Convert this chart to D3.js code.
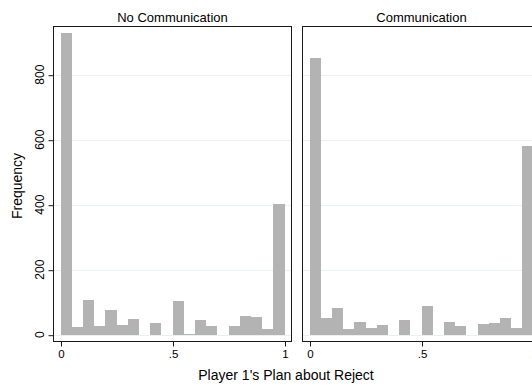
<!DOCTYPE html>
<html>
<head>
<meta charset="utf-8">
<script src="https://cdn.jsdelivr.net/npm/d3@7"></script>
<style>
  html, body { margin: 0; padding: 0; background: #fff; }
  svg { display: block; font-family: "Liberation Sans", Arial, Helvetica, sans-serif; }
</style>
</head>
<body>
<svg id="chart" width="532" height="385"></svg>
<script>
// Histogram bins: left edges of the 20 bins of width 0.05 on [0, 1]
const binStarts = [0, 0.05, 0.1, 0.15, 0.2, 0.25, 0.3, 0.35, 0.4, 0.45,
                   0.5, 0.55, 0.6, 0.65, 0.7, 0.75, 0.8, 0.85, 0.9, 0.95];
const binWidth = 0.05;

// Frequencies per bin for each condition
const noCommunication = [928, 25, 108, 28, 77, 31, 49, 0, 37, 0,
                         105, 3, 46, 28, 0, 28, 58, 55, 18, 402];
const communication   = [851, 52, 83, 18, 40, 22, 31, 0, 46, 0,
                         89, 0, 40, 28, 0, 34, 37, 52, 22, 580];

const panelTitles = ["No Communication", "Communication"];
const yTicks = [0, 200, 400, 600, 800];
const xTicks = [0, 0.5, 1];
const xTickLabels = ["0", ".5", "1"];

const svg = d3.select("#chart");

// Layout
const frameTop = 26.5, frameBottom = 341.5;
const frameLefts = [53.5, 302.5];
const frameWidth = 238;
const pad = 7;

const y = d3.scaleLinear().domain([0, 800]).range([334.7, 74.7]);

const panels = [
  { title: panelTitles[0], counts: noCommunication },
  { title: panelTitles[1], counts: communication }
];

panels.forEach((p, i) => {
  const fl = frameLefts[i];
  const x = d3.scaleLinear().domain([0, 1]).range([fl + pad, fl + frameWidth - pad]);
  const g = svg.append("g");

  // Grid lines
  g.selectAll("line.grid").data(yTicks).enter().append("line")
    .attr("x1", fl).attr("x2", fl + frameWidth)
    .attr("y1", d => Math.round(y(d)) + 0.5).attr("y2", d => Math.round(y(d)) + 0.5)
    .attr("stroke", "#e9f1f3").attr("stroke-width", 1);

  // Bars
  g.selectAll("rect.bar").data(p.counts.map((c, k) => ({ x0: binStarts[k], c })))
    .enter().append("rect")
    .attr("x", d => x(d.x0))
    .attr("width", d => x(d.x0 + binWidth) - x(d.x0))
    .attr("y", d => y(d.c))
    .attr("height", d => y(0) - y(d.c))
    .attr("fill", "#b3b3b3")
    .attr("shape-rendering", "crispEdges");

  // Frame
  g.append("rect")
    .attr("x", fl).attr("y", frameTop)
    .attr("width", frameWidth).attr("height", frameBottom - frameTop)
    .attr("fill", "none").attr("stroke", "#1a1a1a").attr("stroke-width", 1);

  // X axis ticks and labels
  const xAxis = d3.axisBottom(x).tickValues(xTicks)
    .tickFormat((d, k) => xTickLabels[k]).tickSize(5).tickPadding(3);
  const ax = g.append("g").attr("transform", `translate(0.5,${frameBottom})`).call(xAxis);
  ax.select(".domain").remove();
  ax.selectAll("line").attr("stroke", "#1a1a1a");
  ax.selectAll("text").attr("font-size", 11.5).attr("fill", "#000")
    .attr("font-family", "'Liberation Sans', Arial, Helvetica, sans-serif");

  // Panel title
  g.append("text")
    .attr("x", fl + frameWidth / 2).attr("y", 21.5)
    .attr("text-anchor", "middle").attr("font-size", 13).attr("fill", "#000")
    .text(p.title);

  // Y axis on the first panel only
  if (i === 0) {
    const yAxis = d3.axisLeft(y).tickValues(yTicks).tickSize(5).tickFormat(d3.format("d"));
    const ay = g.append("g").attr("transform", `translate(${fl},0.5)`).call(yAxis);
    ay.select(".domain").remove();
    ay.selectAll("line").attr("stroke", "#1a1a1a");
    ay.selectAll("text").remove();
    g.selectAll("text.ytick").data(yTicks).enter().append("text")
      .attr("class", "ytick")
      .attr("transform", d => `translate(44,${y(d)}) rotate(-90)`)
      .attr("text-anchor", "middle").attr("font-size", 12).attr("fill", "#000")
      .text(d => d);
  }
});

// Axis titles
svg.append("text")
  .attr("transform", "translate(22,186) rotate(-90)")
  .attr("text-anchor", "middle").attr("font-size", 14).attr("fill", "#000")
  .text("Frequency");

svg.append("text")
  .attr("x", 286).attr("y", 380)
  .attr("text-anchor", "middle").attr("font-size", 14).attr("fill", "#000")
  .text("Player 1's Plan about Reject");
</script>
</body>
</html>
